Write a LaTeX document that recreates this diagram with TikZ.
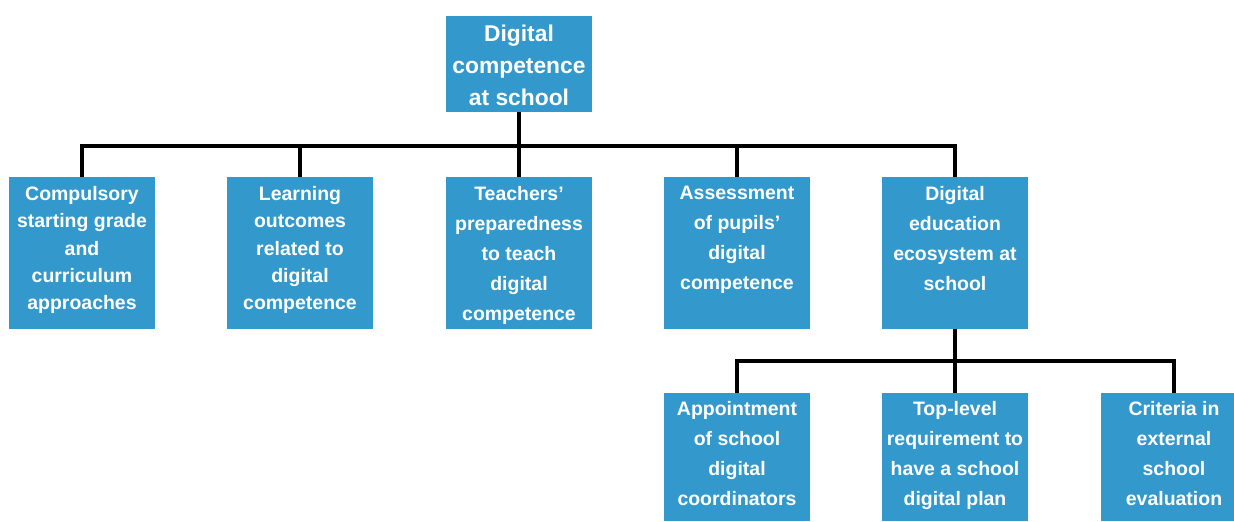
\documentclass[tikz,border=0pt]{standalone}
\usepackage{fontspec}
\setmainfont{Liberation Sans}
\definecolor{boxblue}{RGB}{51,153,204}
\newcommand{\boxtext}[2]{\parbox[c][#1][t]{109.5pt}{\centering #2}}
\tikzset{
  rootbox/.style={fill=boxblue, text=white, inner xsep=0pt, inner ysep=6.4pt,
    font=\fontsize{17.1pt}{24pt}\selectfont\bfseries},
  midbox/.style={fill=boxblue, text=white, inner xsep=0pt, inner ysep=6.75pt,
    font=\fontsize{14.6pt}{22.5pt}\selectfont\bfseries},
  tightbox/.style={midbox, font=\fontsize{14.6pt}{20.6pt}\selectfont\bfseries},
  lowbox/.style={fill=boxblue, text=white, inner xsep=0pt, inner ysep=6pt,
    font=\fontsize{14.6pt}{22.5pt}\selectfont\bfseries},
  link/.style={line width=3pt, black}
}
\begin{document}
\begin{tikzpicture}[x=0.75pt, y=-0.75pt]
	\useasboundingbox (0,0) rectangle (1234,521);
	\path(519,64)   node[rootbox](R)  {\boxtext{59.2pt}{Digital\\competence\\at school}};
	\path(82,253)   node[tightbox](C1) {\boxtext{100.5pt}{Compulsory\\starting grade\\and\\curriculum\\approaches}};
	\path(300,253)  node[tightbox](C2) {\boxtext{100.5pt}{Learning\\outcomes\\related to\\digital\\competence}};
	\path(519,253)  node[midbox](C3)   {\boxtext{100.5pt}{Teachers’\\preparedness\\to teach\\digital\\competence}};
	\path(737,253)  node[midbox](C4)   {\boxtext{100.5pt}{Assessment\\of pupils’\\digital\\competence}};
	\path(955,253)  node[midbox](C5)   {\boxtext{100.5pt}{Digital\\education\\ecosystem at\\school}};
	\path(737,457)  node[lowbox](D1)   {\boxtext{84pt}{Appointment\\of school\\digital\\coordinators}};
	\path(955,457)  node[lowbox](D2)   {\boxtext{84pt}{Top-level\\requirement to\\have a school\\digital plan}};
	\path(1174,457) node[lowbox](D3)   {\boxtext{84pt}{Criteria in\\external\\school\\evaluation}};
	\coordinate (barA) at (0,146);
	\coordinate (barB) at (0,361);
	\draw[link] (R.south) -- (R.south |- barA) -| (C1.north);
	\draw[link] (R.south) -- (R.south |- barA) -| (C2.north);
	\draw[link] (R.south) -- (C3.north);
	\draw[link] (R.south) -- (R.south |- barA) -| (C4.north);
	\draw[link] (R.south) -- (R.south |- barA) -| (C5.north);
	\draw[link] (C5.south) -- (C5.south |- barB) -| (D1.north);
	\draw[link] (C5.south) -- (D2.north);
	\draw[link] (C5.south) -- (C5.south |- barB) -| (D3.north);
\end{tikzpicture}
\end{document}
